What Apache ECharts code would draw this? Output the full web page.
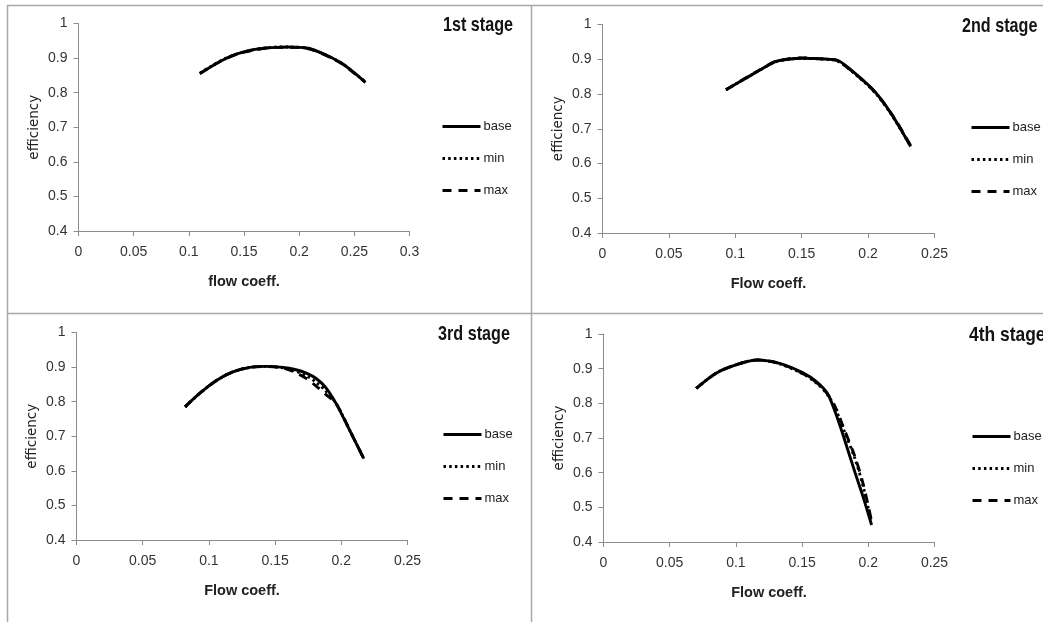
<!DOCTYPE html>
<html><head><meta charset="utf-8">
<script src="https://cdn.jsdelivr.net/npm/echarts@6/dist/echarts.min.js"></script>
<style>html,body{margin:0;padding:0;background:#fff}#c{width:1043px;height:622px}</style>
</head><body><div id="c"></div>
<script>
// ---- data ----
const stageTitles = ['1st stage', '2nd stage', '3rd stage', '4th stage'];
const xAxisNames = ['flow coeff.', 'Flow coeff.', 'Flow coeff.', 'Flow coeff.'];
const yAxisName = 'efficiency';
const xMaxes = [0.3, 0.25, 0.25, 0.25];
const seriesNames = ['base', 'min', 'max'];

const x1 = [0.11, 0.12, 0.13, 0.14, 0.15, 0.16, 0.17, 0.18, 0.19, 0.2, 0.205, 0.21, 0.22, 0.23, 0.24, 0.25, 0.26];
const base1 = [0.855, 0.875, 0.893, 0.908, 0.918, 0.925, 0.929, 0.931, 0.932, 0.931, 0.930, 0.927, 0.915, 0.900, 0.882, 0.857, 0.830];
const min1 = [0.856, 0.876, 0.894, 0.908, 0.918, 0.925, 0.929, 0.932, 0.932, 0.931, 0.930, 0.927, 0.915, 0.900, 0.882, 0.857, 0.831];
const max1 = [0.855, 0.875, 0.893, 0.907, 0.917, 0.924, 0.929, 0.931, 0.931, 0.931, 0.929, 0.926, 0.914, 0.899, 0.881, 0.856, 0.830];

const x2 = [0.093, 0.11, 0.12, 0.13, 0.14, 0.15, 0.16, 0.17, 0.177, 0.19, 0.205, 0.218, 0.232];
const base2 = [0.812, 0.850, 0.872, 0.893, 0.900, 0.903, 0.902, 0.900, 0.897, 0.860, 0.807, 0.740, 0.649];
const min2 = [0.812, 0.850, 0.872, 0.892, 0.900, 0.903, 0.902, 0.899, 0.895, 0.858, 0.805, 0.738, 0.650];
const max2 = [0.812, 0.851, 0.873, 0.893, 0.901, 0.904, 0.902, 0.900, 0.896, 0.859, 0.806, 0.741, 0.652];

const x3 = [0.082, 0.093, 0.106, 0.118, 0.131, 0.143, 0.156, 0.165, 0.174, 0.181, 0.188, 0.196, 0.206, 0.217];
const base3 = [0.785, 0.824, 0.862, 0.886, 0.899, 0.902, 0.899, 0.893, 0.882, 0.867, 0.842, 0.795, 0.720, 0.635];
const min3 = [0.785, 0.824, 0.862, 0.886, 0.899, 0.902, 0.898, 0.889, 0.874, 0.856, 0.832, 0.795, 0.720, 0.635];
const max3 = [0.785, 0.824, 0.862, 0.886, 0.899, 0.902, 0.897, 0.885, 0.866, 0.845, 0.822, 0.795, 0.720, 0.635];

const x4 = [0.07, 0.085, 0.1, 0.116, 0.133, 0.151, 0.161, 0.169, 0.175, 0.181, 0.19, 0.196, 0.2025];
const base4 = [0.843, 0.887, 0.911, 0.925, 0.915, 0.887, 0.862, 0.829, 0.775, 0.708, 0.600, 0.531, 0.449];
const min4 = [0.843, 0.887, 0.911, 0.925, 0.914, 0.884, 0.858, 0.826, 0.786, 0.728, 0.640, 0.562, 0.455];
const max4 = [0.843, 0.887, 0.911, 0.925, 0.915, 0.885, 0.860, 0.828, 0.790, 0.733, 0.645, 0.569, 0.460];

const panels = [
  { x: x1, ys: [base1, min1, max1] },
  { x: x2, ys: [base2, min2, max2] },
  { x: x3, ys: [base3, min3, max3] },
  { x: x4, ys: [base4, min4, max4] }
];

// ---- layout / style ----
const grids = [
  { left: 78.5, top: 23.5, width: 331, height: 207.5 },
  { left: 602.5, top: 24.5, width: 332, height: 208.5 },
  { left: 76.5, top: 332.5, width: 331, height: 207.5 },
  { left: 603.5, top: 334, width: 331, height: 208 }
];
const titlePos = [[443, 15], [962, 16], [438, 324], [969, 325]];
const titleScale = [0.77, 0.77, 0.77, 0.83];
const legendPos = [[441, 120], [970, 121], [442, 428], [971, 430]];
const lineStyles = [
  { type: 'solid', width: 2.9 },
  { type: [2.5, 3.2], width: 2.9 },
  { type: [9, 7], width: 2.9 }
];
const axisColor = '#8c8c8c';
const labelFont = { fontFamily: 'Liberation Sans, Arial, sans-serif', fontSize: 14, color: '#333' };

const option = {
  animation: false,
  backgroundColor: '#fff',
  legend: legendPos.map((p, i) => ({
    orient: 'vertical', left: p[0], top: p[1], padding: 0,
    itemWidth: 38, itemHeight: 14, itemGap: 19,
    data: seriesNames,
    selectedMode: false,
    itemStyle: { opacity: 0 },
    lineStyle: { width: 3 },
    textStyle: { fontFamily: 'Liberation Sans, Arial, sans-serif', fontSize: 13, color: '#222', padding: [0, 0, 0, -2] }
  })),
  grid: grids.map(g => Object.assign({ containLabel: false }, g)),
  xAxis: grids.map((g, i) => ({
    gridIndex: i, type: 'value', min: 0, max: xMaxes[i], interval: 0.05,
    name: xAxisNames[i], nameLocation: 'middle', nameGap: 43,
    nameTextStyle: { fontFamily: 'Liberation Sans, Arial, sans-serif', fontSize: 14.5, fontWeight: 'bold', color: '#222' },
    axisLine: { show: true, lineStyle: { color: axisColor, width: 1 } },
    axisTick: { show: true, length: 5, lineStyle: { color: axisColor } },
    axisLabel: Object.assign({ margin: 14 }, labelFont),
    splitLine: { show: false }
  })),
  yAxis: grids.map((g, i) => ({
    gridIndex: i, type: 'value', min: 0.4, max: 1, interval: 0.1,
    name: yAxisName, nameLocation: 'middle', nameGap: 37,
    nameTextStyle: { fontFamily: 'DejaVu Sans, sans-serif', fontSize: 13.5, color: '#222' },
    axisLine: { show: true, lineStyle: { color: axisColor, width: 1 } },
    axisTick: { show: true, length: 5, lineStyle: { color: axisColor } },
    axisLabel: Object.assign({ margin: 11 }, labelFont),
    splitLine: { show: false }
  })),
  series: [],
  graphic: [
    { type: 'line', shape: { x1: 7, y1: 5.5, x2: 1043, y2: 5.5 }, style: { stroke: '#a8a8a8', lineWidth: 1.5 }, silent: true },
    { type: 'line', shape: { x1: 7.5, y1: 5, x2: 7.5, y2: 622 }, style: { stroke: '#a8a8a8', lineWidth: 1.5 }, silent: true },
    { type: 'line', shape: { x1: 7, y1: 313.5, x2: 1043, y2: 313.5 }, style: { stroke: '#a8a8a8', lineWidth: 1.5 }, silent: true },
    { type: 'line', shape: { x1: 531.5, y1: 5, x2: 531.5, y2: 622 }, style: { stroke: '#a8a8a8', lineWidth: 1.5 }, silent: true }
  ].concat(stageTitles.map((t, i) => ({
    type: 'text', x: titlePos[i][0], y: titlePos[i][1], scaleX: titleScale[i], silent: true,
    style: { text: t, fill: '#141414', font: 'bold 21px "Liberation Sans", Arial, sans-serif', textAlign: 'left', textVerticalAlign: 'top' }
  })))
};

panels.forEach((p, i) => {
  seriesNames.forEach((name, k) => {
    option.series.push({
      name: name, type: 'line', xAxisIndex: i, yAxisIndex: i,
      data: p.x.map((xv, j) => [xv, p.ys[k][j]]),
      symbol: 'none', smooth: 0.3,
      lineStyle: Object.assign({ color: '#000' }, lineStyles[k]),
      itemStyle: { color: '#000' },
      z: 3 - k
    });
  });
});

const chart = echarts.init(document.getElementById('c'), null, { renderer: 'canvas' });
chart.setOption(option);
</script>
</body></html>
